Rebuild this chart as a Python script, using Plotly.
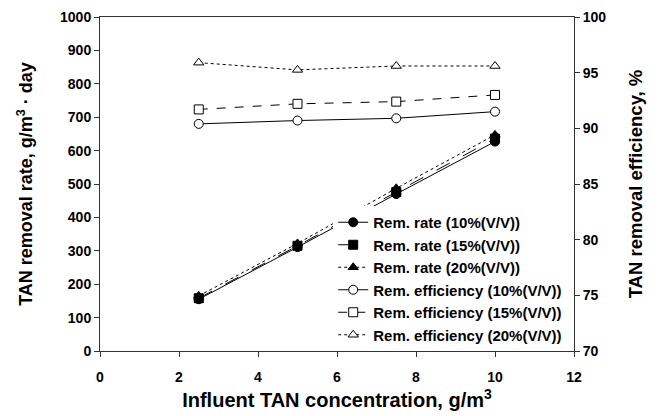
import plotly.graph_objects as go

# influent TAN concentration, g/m3
conc = [2.5, 5.0, 7.5, 10.0]

# removal rate, g/m3.day (left axis)
rate_10 = [155, 311, 470, 627]
rate_15 = [158, 315, 476, 636]
rate_20 = [165, 322, 487, 647]

# removal efficiency, % (right axis)
eff_10 = [90.4, 90.7, 90.9, 91.5]
eff_15 = [91.7, 92.2, 92.4, 93.0]
eff_20 = [95.9, 95.25, 95.6, 95.6]

FONT = "Arial, Liberation Sans, sans-serif"
BLK = "#000000"

fig = go.Figure()


def add(y, name, dash, symbol, filled, axis="y"):
    fig.add_trace(go.Scatter(
        x=conc, y=y, name=name, mode="lines+markers", yaxis=axis,
        line=dict(color=BLK, width=1, dash=dash),
        marker=dict(symbol=symbol, size=9, color=BLK if filled else "white",
                    line=dict(color=BLK, width=1)),
    ))


add(rate_10, "Rem. rate (10%(V/V))", "solid", "circle", True)
add(rate_15, "Rem. rate (15%(V/V))", "longdash", "square", True)
add(rate_20, "Rem. rate (20%(V/V))", "dot", "triangle-up", True)
add(eff_10, "Rem. efficiency (10%(V/V))", "solid", "circle", False, "y2")
add(eff_15, "Rem. efficiency (15%(V/V))", "dash", "square", False, "y2")
add(eff_20, "Rem. efficiency (20%(V/V))", "dot", "triangle-up", False, "y2")

tickfont = dict(family=FONT, size=14, color=BLK, weight="bold")
axis_common = dict(showline=True, linecolor="#333333", linewidth=1, ticks="outside",
                   ticklen=5, tickcolor="#333333", showgrid=False, zeroline=False,
                   tickfont=tickfont, automargin=False)

fig.update_layout(
    width=666, height=416,
    margin=dict(l=100, r=92, t=17, b=65),
    paper_bgcolor="white", plot_bgcolor="white",
    font=dict(family=FONT, color=BLK),
    xaxis=dict(range=[0, 12], dtick=2, mirror=True, ticklabelstandoff=8,
               title=dict(text="Influent TAN concentration, g/m<sup>3</sup>",
                          font=dict(family=FONT, size=20, color=BLK, weight="bold"), standoff=9),
               **axis_common),
    yaxis=dict(range=[0, 1000], dtick=100,
               title=dict(text="TAN removal rate, g/m<sup>3</sup> · day",
                          font=dict(family=FONT, size=18, color=BLK, weight="bold"), standoff=22),
               **axis_common),
    yaxis2=dict(range=[70, 100], dtick=5, overlaying="y", side="right",
                title=dict(text="TAN removal efficiency, %",
                           font=dict(family=FONT, size=18.5, color=BLK, weight="bold"), standoff=23),
                **axis_common),
    legend=dict(x=0.492, xanchor="left", y=0.0, yanchor="bottom",
                bgcolor="white", borderwidth=0, tracegroupgap=0,
                font=dict(family=FONT, size=15, color=BLK, weight="bold")),
)

# page body has a default 8px margin; drop it so the figure fills the window
fig.write_html("out.html", config={"displayModeBar": False},
               post_script="document.body.style.margin='0';")
